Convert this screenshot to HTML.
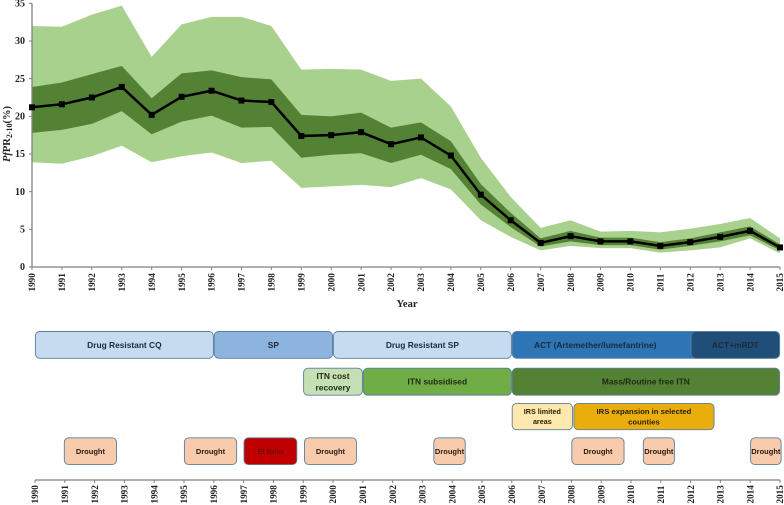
<!DOCTYPE html>
<html>
<head>
<meta charset="utf-8">
<title>PfPR2-10 trend and malaria control timeline</title>
<style>
html,body{margin:0;padding:0;background:#fff;}
body{width:784px;height:505px;overflow:hidden;}
svg{display:block;filter:blur(0.3px);}
.tick{font-family:"Liberation Serif",serif;font-weight:bold;fill:#222;}
.box{font-family:"Liberation Sans",sans-serif;font-weight:bold;}
</style>
</head>
<body>
<svg id="chart" width="784" height="505" viewBox="0 0 784 505" xmlns="http://www.w3.org/2000/svg">
  <text x="407" y="307" text-anchor="middle" font-family="Liberation Serif, serif" font-weight="bold" font-size="10.5" fill="#222">Year</text>
  <text transform="translate(10,134) rotate(-90)" text-anchor="middle" font-family="Liberation Serif, serif" font-weight="bold" font-size="10.5" fill="#222"><tspan font-style="italic">Pf</tspan>PR<tspan font-size="8" dy="2">2-10</tspan><tspan dy="-2">(%)</tspan></text>
</svg>
<script>
var years = [1990,1991,1992,1993,1994,1995,1996,1997,1998,1999,2000,2001,2002,2003,2004,2005,2006,2007,2008,2009,2010,2011,2012,2013,2014,2015];
var meanValues = [21.2,21.6,22.5,23.9,20.2,22.6,23.4,22.1,21.9,17.4,17.5,17.9,16.3,17.2,14.8,9.6,6.2,3.2,4.1,3.4,3.4,2.8,3.3,4.0,4.8,2.6];
var outerUpper = [32.0,31.9,33.5,34.7,27.9,32.2,33.2,33.2,32.0,26.2,26.3,26.2,24.7,25.0,21.3,14.5,9.3,5.2,6.2,4.7,4.8,4.6,5.1,5.7,6.5,3.8];
var outerLower = [13.9,13.7,14.7,16.1,13.9,14.7,15.2,13.8,14.1,10.5,10.7,10.9,10.6,11.8,10.3,6.2,4.0,2.2,2.8,2.5,2.5,1.9,2.2,2.6,3.8,1.8];
var innerUpper = [23.9,24.5,25.6,26.7,22.4,25.7,26.1,25.2,24.9,20.2,20.0,20.5,18.5,19.2,16.7,11.0,7.2,3.8,4.8,3.9,3.9,3.3,3.8,4.6,5.4,3.0];
var innerLower = [17.8,18.2,19.0,20.7,17.6,19.3,20.1,18.5,18.6,14.5,14.9,15.1,13.8,14.9,13.0,8.3,5.3,2.7,3.4,2.9,2.9,2.3,2.8,3.4,4.2,2.2];
var yTicks = [0,5,10,15,20,25,30,35];

var drugLabels = ["Drug Resistant CQ","SP","Drug Resistant SP","ACT (Artemether/lumefantrine)","ACT+mRDT"];
var drugStarts = [1990,1996,2000,2006,2012];
var drugEnds = [1996,2000,2006,2015,2015];
var drugLabelEnds = [1996,2000,2006,2011.6,2015];
var itnLabels = ["ITN cost|recovery","ITN subsidised","Mass/Routine free ITN"];
var itnStarts = [1999,2001,2006];
var itnEnds = [2001,2006,2015];
var irsLabels = ["IRS limited|areas","IRS expansion in selected|counties"];
var irsStarts = [2006,2008.07];
var irsEnds = [2008.05,2012.8];
var eventLabels = ["Drought","Drought","El Niño","Drought","Drought","Drought","Drought","Drought"];
var eventStarts = [1990.97,1995,1997,1999.03,2003.37,2008,2010.4,2014];
var eventEnds = [1992.75,1996.78,1998.8,2000.8,2004.45,2009.78,2011.47,2015.05];

var NS = "http://www.w3.org/2000/svg";
var svg = document.getElementById("chart");
function xTop(year){ return 32 + (year - 1990) * 29.92; }
function yTop(v){ return 267 - v * 7.533; }
function xBottom(year){ return 35 + (year - 1990) * 29.8; }
function make(tag, attrs, parent){
  var el = document.createElementNS(NS, tag);
  for (var k in attrs) el.setAttribute(k, attrs[k]);
  (parent || svg).appendChild(el);
  return el;
}
function bandPoints(up, low){
  var pts = [];
  for (var i = 0; i < years.length; i++) pts.push(xTop(years[i]) + "," + yTop(up[i]));
  for (var j = years.length - 1; j >= 0; j--) pts.push(xTop(years[j]) + "," + yTop(low[j]));
  return pts.join(" ");
}

var outerBand = make("polygon", {points: bandPoints(outerUpper, outerLower), fill: "#a9d18e"});


var innerBand = make("polygon", {points: bandPoints(innerUpper, innerLower), fill: "#548235"});



var yAxis = make("line", {x1: xTop(1990), x2: xTop(1990), y1: yTop(35), y2: yTop(0), stroke: "#808080", "stroke-width": 1.3});


var xAxis = make("line", {x1: xTop(1990), x2: xTop(2015), y1: yTop(0), y2: yTop(0), stroke: "#808080", "stroke-width": 1.3});



yTicks.forEach(function(v){
  var t = make("line", {x1: xTop(1990) - 3, x2: xTop(1990), y1: yTop(v), y2: yTop(v), stroke: "#808080", "stroke-width": 1});
  
  
  var l = make("text", {x: 25, y: yTop(v) + 3.2, "text-anchor": "end", "font-size": 10, "class": "tick"});
  
  
  l.textContent = v;
});

years.forEach(function(y){
  var t = make("line", {x1: xTop(y), x2: xTop(y), y1: yTop(0), y2: yTop(0) + 3, stroke: "#808080", "stroke-width": 1});
  
  
  var l = make("text", {transform: "translate(" + (xTop(y) + 3.2) + ",291.5) rotate(-90)", "font-size": 9.2, "class": "tick"});
  
  
  l.textContent = y;
});

var meanLine = make("polyline", {points: years.map(function(y, i){ return xTop(y) + "," + yTop(meanValues[i]); }).join(" "), fill: "none", stroke: "#000", "stroke-width": 2.5});


years.forEach(function(y, i){
  var m = make("rect", {x: xTop(y) - 3, y: yTop(meanValues[i]) - 3, width: 6, height: 6, fill: "#000"});
  
  
});

function drawBox(label, start, end, labelEnd, top, height, fill, textFill, size, name){
  var g = make("g", {});
  
  
  var x0 = xBottom(start), x1 = xBottom(end);
  make("rect", {x: x0 + 0.4, y: top, width: x1 - x0 - 0.8, height: height, rx: 4.5, ry: 4.5, fill: fill, stroke: "#5b7f9f", "stroke-width": 0.9}, g);
  var lines = label.split("|");
  var cy = top + height / 2;
  var lh = size * 1.4;
  lines.forEach(function(txt, i){
    var t = make("text", {x: (x0 + xBottom(labelEnd)) / 2, y: cy + (i - (lines.length - 1) / 2) * lh + size * 0.36, "text-anchor": "middle", "font-size": size, fill: textFill, "class": "box"}, g);
    t.textContent = txt;
  });
}

var drugFills = ["#c6dbf0","#8cb4de","#c6dbf0","#2e75b6","#1f4e79"];
var drugNames = ["drug-resistant-cq-bar","sp-bar","drug-resistant-sp-bar","act-bar","act-mrdt-bar"];
drugLabels.forEach(function(lab, i){
  drawBox(lab, drugStarts[i], drugEnds[i], drugLabelEnds[i], 331.5, 26.8, drugFills[i], "#1b2a3a", 8.4, drugNames[i]);
});
var itnFills = ["#c5e0b4","#70ad47","#548235"];
var itnNames = ["itn-cost-recovery-bar","itn-subsidised-bar","mass-free-itn-bar"];
itnLabels.forEach(function(lab, i){
  drawBox(lab, itnStarts[i], itnEnds[i], itnEnds[i], 368.2, 27, itnFills[i], "#1c2a12", 8.4, itnNames[i]);
});
var irsFills = ["#ffe8ad","#e9ae0e"];
var irsNames = ["irs-limited-areas-bar","irs-expansion-bar"];
irsLabels.forEach(function(lab, i){
  drawBox(lab, irsStarts[i], irsEnds[i], irsEnds[i], 403.4, 26.3, irsFills[i], "#2a2006", i === 0 ? 7.2 : 7.7, irsNames[i]);
});
eventLabels.forEach(function(lab, i){
  var nino = lab !== "Drought";
  drawBox(lab, eventStarts[i], eventEnds[i], eventEnds[i], 437.8, 26.8, nino ? "#c00000" : "#f8cbad", nino ? "#6e0a0a" : "#2a1a10", 7.5, nino ? "el-nino-box" : "drought-box");
});

var tlAxis = make("line", {x1: xBottom(1990), x2: xBottom(2015), y1: 480, y2: 480, stroke: "#808080", "stroke-width": 1.3});


years.forEach(function(y){
  var t = make("line", {x1: xBottom(y), x2: xBottom(y), y1: 480, y2: 483, stroke: "#808080", "stroke-width": 1});
  
  
  var l = make("text", {transform: "translate(" + (xBottom(y) + 3.2) + ",503.5) rotate(-90)", "font-size": 9.2, "class": "tick"});
  
  
  l.textContent = y;
});
</script>
</body>
</html>
